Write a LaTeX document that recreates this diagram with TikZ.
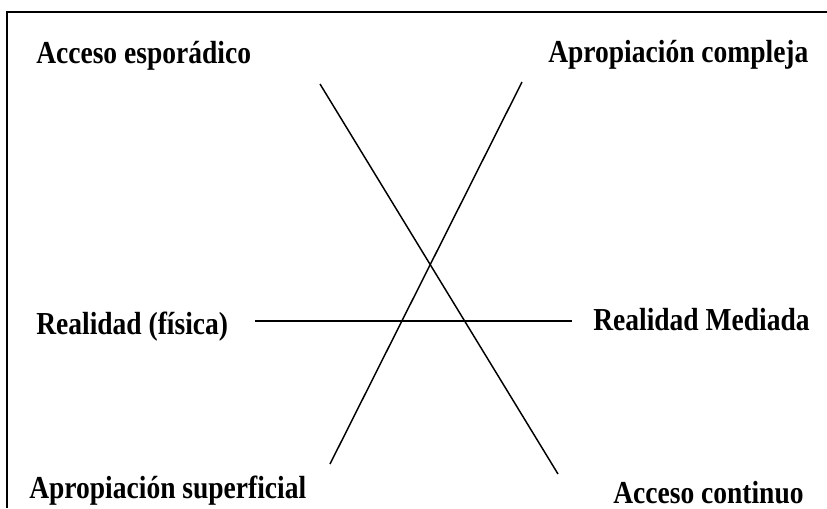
\documentclass[tikz,border=0pt]{standalone}
\usepackage{fontspec}
\setmainfont{Liberation Serif}
\newfontfamily\etiqfont[FakeStretch=0.86]{Liberation Serif}
\tikzset{
  etiq/.style={anchor=base west, inner sep=0pt, font=\etiqfont\fontsize{24}{28}\selectfont\bfseries},
  trazo/.style={line width=1.1pt}
}

\begin{document}
\begin{tikzpicture}[x=0.75pt,y=-0.75pt]
   \useasboundingbox (0,0) rectangle (827,508);
   % marco (solo lados visibles)
   \draw[line width=1.4pt] (827,12) -- (7,12) -- (7,508);

   % extremos de las rectas
   \coordinate (espor) at (320,84);
   \coordinate (cont)  at (558,474);
   \coordinate (compl) at (522,82);
   \coordinate (superf) at (330,464);
   \coordinate (fis) at (255,321);
   \coordinate (med) at (572,321);

   \draw[trazo] (espor) -- (cont);
   \draw[trazo] (superf) -- (compl);
   \draw[trazo] (fis) -- (med);

   % etiquetas
   \node[etiq] (accesp) at (36,63) {Acceso esporádico};
   \node[etiq] (apcomp) at (548,62) {Apropiación compleja};
   \node[etiq] (realfis) at (36,334) {Realidad (física)};
   \node[etiq] (realmed) at (593,330) {Realidad Mediada};
   \node[etiq] (apsup) at (29,498) {Apropiación superficial};
   \node[etiq] (acccont) at (613,503) {Acceso continuo};
\end{tikzpicture}
\end{document}
